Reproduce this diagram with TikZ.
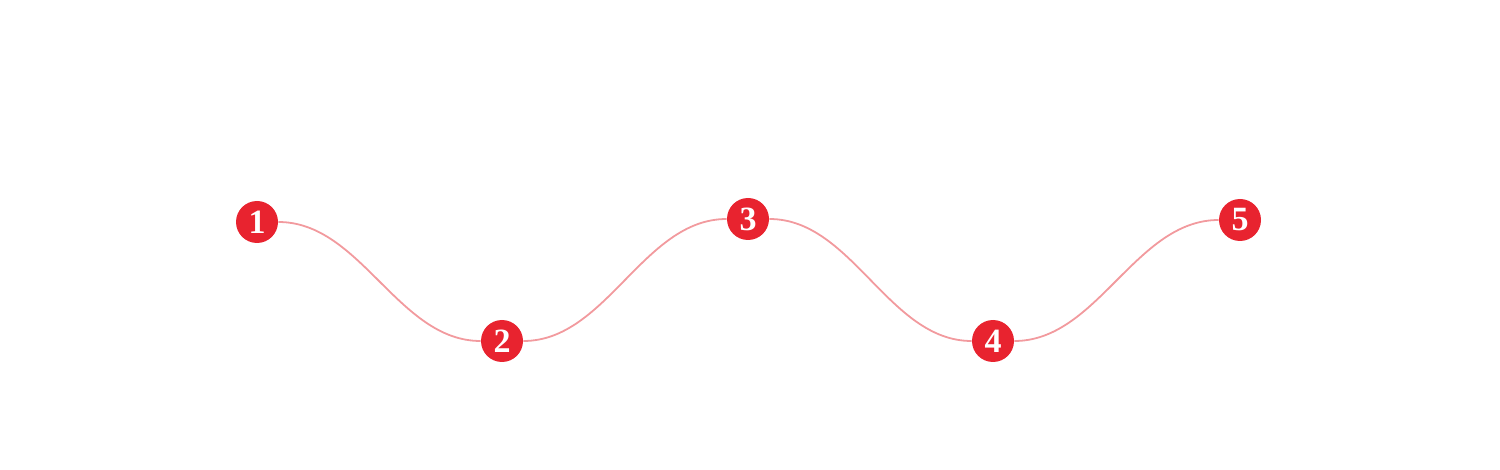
\documentclass[tikz,border=0pt]{standalone}
\usepackage{fontspec}
\setmainfont{Liberation Serif}
\definecolor{dotred}{HTML}{E8232F}
\definecolor{wave}{HTML}{F29A9E}
\begin{document}
\begin{tikzpicture}[x=0.5pt,y=-0.5pt,
  dot/.style={circle,fill=dotred,draw=none,minimum size=21pt,inner sep=0pt,text=white,font=\fontsize{17}{17}\selectfont\bfseries},
  link/.style={draw=wave,line width=0.9pt}]
\useasboundingbox (0,0) rectangle (1500,470);
\node[dot] (n1) at (257,222) {1};
\node[dot] (n2) at (502,341) {2};
\node[dot] (n3) at (748,219) {3};
\node[dot] (n4) at (993,341) {4};
\node[dot] (n5) at (1240,220) {5};
\draw[link] (n1.east) to[out=0,in=180,looseness=0.9] (n2.west);
\draw[link] (n2.east) to[out=0,in=180,looseness=0.9] (n3.west);
\draw[link] (n3.east) to[out=0,in=180,looseness=0.9] (n4.west);
\draw[link] (n4.east) to[out=0,in=180,looseness=0.9] (n5.west);
\end{tikzpicture}
\end{document}
